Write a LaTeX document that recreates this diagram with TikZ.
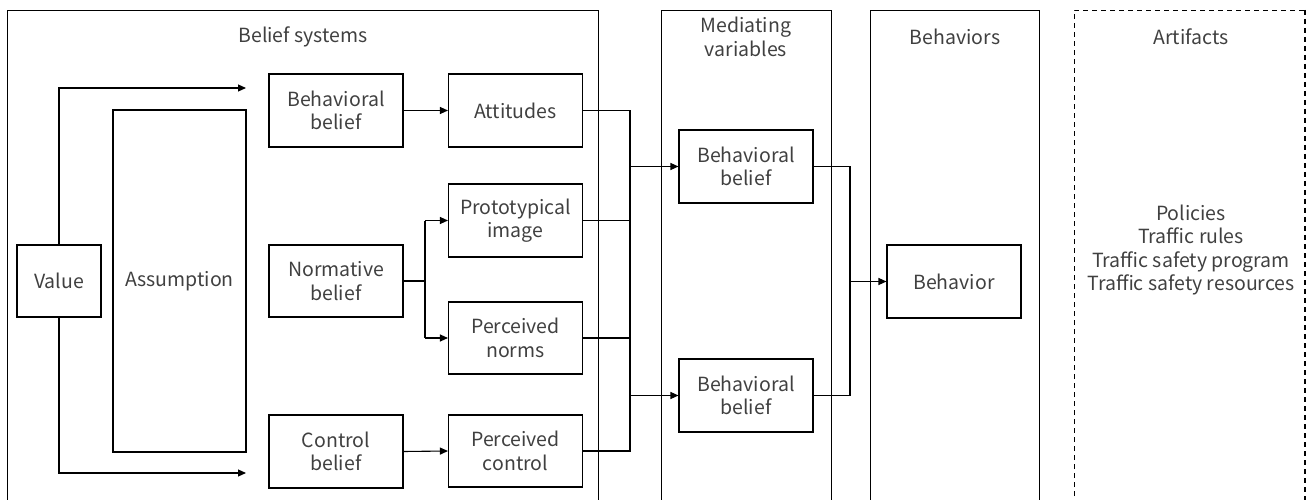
\documentclass[tikz,border=0pt]{standalone}
\usepackage{fontspec}
\setmainfont{Noto Sans CJK JP}
\usetikzlibrary{arrows.meta}
\begin{document}
\begin{tikzpicture}[x=1pt,y=-1pt,
  every node/.style={font=\fontsize{19.5}{23.5}\selectfont, text=black!75, align=center},
  box/.style={draw=black, line width=1.1pt, minimum width=134pt, minimum height=73pt, inner sep=0pt},
  frame/.style={draw=black, line width=0.9pt},
  conn/.style={draw=black, line width=1.1pt},
  arr/.style={conn, -{Triangle[length=8pt,width=7pt]}}]
\useasboundingbox (0,0) rectangle (1310,500);
% containers
\draw[frame] (7,505) -- (7,10) -- (598,10) -- (598,505);
\draw[frame] (661,505) -- (661,10) -- (831,10) -- (831,505);
\draw[frame] (870,505) -- (870,10) -- (1039,10) -- (1039,505);
\draw[frame, dashed, dash pattern=on 5pt off 4pt] (1074,505) -- (1074,10) -- (1305,10);
\draw[frame, line width=1.6pt, dash pattern=on 5pt off 4pt] (1305,10) -- (1305,505);
% titles
\node (tbelief) at (303,37) {Belief systems};
\node (tmed) at (746,37) {Mediating\\variables};
\node (tbeh) at (955,37) {Behaviors};
\node (tart) at (1191,37) {Artifacts};
\node (artlist) at (1191,250) {Policies\\Traffic rules\\Traffic safety program\\Traffic safety resources};
% nodes
\node[box, minimum width=84pt, minimum height=72pt] (value) at (59,281) {Value};
\node[box, minimum width=133pt, minimum height=342pt] (assump) at (179.5,281) {Assumption};
\node[box] (bb1) at (336,110.5) {Behavioral\\belief};
\node[box] (att) at (515.5,110.5) {Attitudes};
\node[box, minimum height=72pt] (nb) at (336,281) {Normative\\belief};
\node[box] (proto) at (515.5,220.5) {Prototypical\\image};
\node[box, minimum height=72pt] (pnorms) at (515.5,338) {Perceived\\norms};
\node[box] (cb) at (336,451.5) {Control\\belief};
\node[box, minimum height=72pt] (pctrl) at (515.5,451) {Perceived\\control};
\node[box] (mbb1) at (746,166.5) {Behavioral\\belief};
\node[box] (mbb2) at (746,395.5) {Behavioral\\belief};
\node[box] (beh) at (954,281.5) {Behavior};
% coordinates
\coordinate (vtop) at (246,88);
\coordinate (vbot) at (246,473);
\coordinate (j1) at (630,110.5);
\coordinate (j4) at (630,451);
\coordinate (n1) at (425,220.5);
\coordinate (n2) at (425,338);
\coordinate (m1) at (850,166.5);
\coordinate (m2) at (850,395.5);
% connectors
\draw[arr] (value.north) |- (vtop);
\draw[arr] (value.south) |- (vbot);
\draw[arr] (bb1) -- (att);
\draw[arr] (cb.east) -- (pctrl.west);
\draw[conn] (nb.east) -| (n1);
\draw[conn] (nb.east) -| (n2);
\draw[arr] (n1) -- (proto.west);
\draw[arr] (n2) -- (pnorms.west);
\draw[conn] (att.east) -- (j1) -- (j4) -- (pctrl.east);
\draw[conn] (proto.east) -- (proto.east -| j1);
\draw[conn] (pnorms.east) -- (pnorms.east -| j1);
\draw[arr] (mbb1.west -| j1) -- (mbb1.west);
\draw[arr] (mbb2.west -| j1) -- (mbb2.west);
\draw[conn] (mbb1.east) -- (m1) -- (m2) -- (mbb2.east);
\draw[arr] (beh.west -| m1) -- (beh.west);
\end{tikzpicture}
\end{document}
